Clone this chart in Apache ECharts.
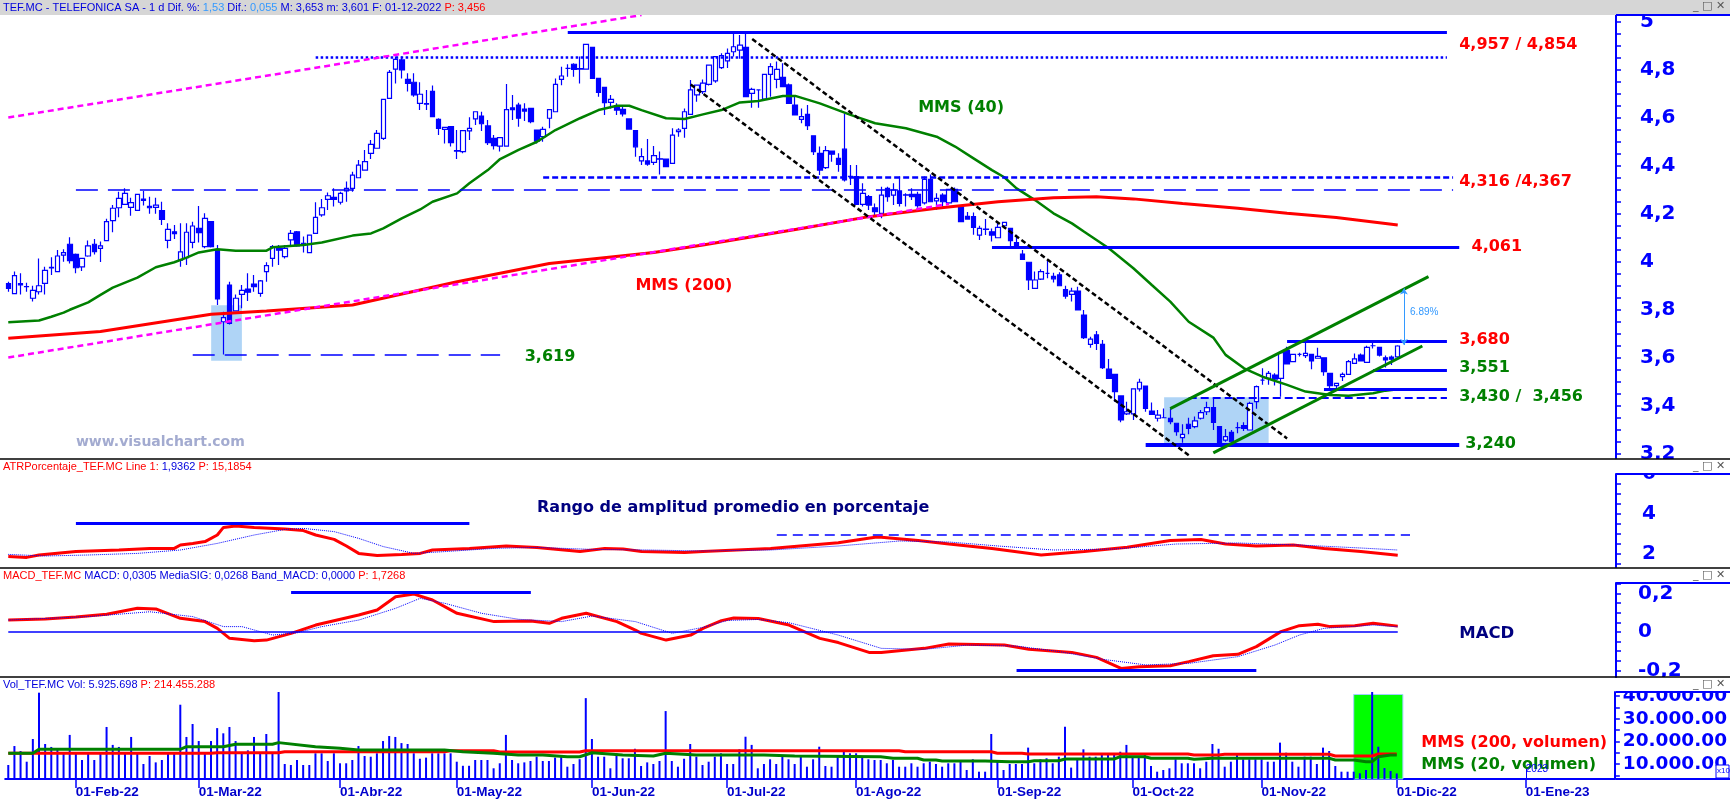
<!DOCTYPE html>
<html>
<head>
<meta charset="utf-8">
<title>TEF.MC</title>
<script src="https://cdn.jsdelivr.net/npm/echarts@6/dist/echarts.min.js"></script>
<style>
  html, body { margin: 0; padding: 0; background: #fff; }
  #chart { width: 1730px; height: 799px; }
</style>
</head>
<body>
<div id="chart"></div>
<script>
// ---- data ----------------------------------------------------------------
const months = ['Ene', 'Feb', 'Mar', 'Abr', 'May', 'Jun', 'Jul', 'Ago', 'Sep', 'Oct', 'Nov', 'Dic'];
const holidays = ['2022-04-15', '2022-04-18', '2022-12-26'];
const firstBar = 10; // 2022-01-17, first candle on screen
const lastDay = 271; // right edge of the time axis (Jan 2023)

// [open, close, low, high]
const ohlc = [
  [3.910,3.890,3.876,3.918],[3.868,3.943,3.868,3.960],[3.910,3.905,3.865,3.953],[3.898,3.897,3.876,3.914],
  [3.849,3.882,3.835,3.901],[3.876,3.901,3.865,4.015],[3.911,3.965,3.865,3.980],[3.975,3.978,3.946,4.020],
  [3.960,4.025,3.960,4.050],[4.029,4.039,4.001,4.053],[4.074,4.006,3.994,4.103],[4.032,3.976,3.953,4.035],
  [3.980,4.015,3.963,4.015],[4.025,4.067,4.022,4.090],[4.074,4.043,4.031,4.096],[4.057,4.067,4.000,4.085],
  [4.089,4.168,4.089,4.180],[4.172,4.224,4.124,4.238],[4.226,4.265,4.186,4.293],[4.240,4.286,4.240,4.307],
  [4.228,4.247,4.193,4.268],[4.215,4.282,4.215,4.282],[4.262,4.257,4.235,4.296],[4.232,4.226,4.201,4.272],
  [4.228,4.237,4.201,4.268],[4.214,4.178,4.154,4.251],[4.090,4.136,4.057,4.161],[4.126,4.118,4.096,4.154],
  [4.008,4.042,3.980,4.161],[4.018,4.124,3.987,4.161],[4.082,4.150,4.057,4.168],[4.140,4.122,4.081,4.233],
  [4.064,4.182,4.057,4.203],[4.168,4.064,4.060,4.168],[4.050,3.846,3.821,4.071],[3.751,3.768,3.615,3.793],
  [3.904,3.744,3.740,3.918],[3.796,3.849,3.796,3.865],[3.865,3.882,3.807,3.904],[3.887,3.874,3.838,3.953],
  [3.908,3.897,3.876,3.946],[3.869,3.921,3.855,3.925],[3.960,3.985,3.918,3.999],[4.015,4.064,3.980,4.071],
  [4.057,4.049,3.987,4.071],[4.022,4.057,4.015,4.071],[4.092,4.119,4.064,4.133],[4.126,4.067,4.064,4.129],
  [4.078,4.071,4.040,4.106],[4.039,4.112,4.039,4.112],[4.119,4.186,4.119,4.249],[4.196,4.226,4.189,4.263],
  [4.261,4.276,4.217,4.290],[4.269,4.261,4.231,4.307],[4.249,4.286,4.240,4.293],[4.296,4.307,4.251,4.335],
  [4.307,4.362,4.293,4.376],[4.351,4.404,4.349,4.425],[4.383,4.418,4.383,4.467],[4.453,4.490,4.429,4.508],
  [4.474,4.536,4.474,4.550],[4.515,4.678,4.508,4.678],[4.682,4.790,4.682,4.800],[4.804,4.844,4.744,4.856],
  [4.842,4.800,4.765,4.856],[4.761,4.744,4.710,4.786],[4.749,4.696,4.689,4.786],[4.661,4.699,4.633,4.749],
  [4.660,4.658,4.633,4.717],[4.711,4.606,4.606,4.735],[4.594,4.557,4.529,4.599],[4.553,4.561,4.494,4.561],
  [4.564,4.497,4.481,4.564],[4.464,4.462,4.429,4.550],[4.460,4.547,4.453,4.550],[4.546,4.557,4.508,4.603],
  [4.596,4.626,4.571,4.626],[4.608,4.576,4.546,4.626],[4.567,4.497,4.487,4.592],[4.515,4.485,4.469,4.529],
  [4.483,4.518,4.460,4.518],[4.483,4.635,4.483,4.742],[4.642,4.635,4.592,4.696],[4.654,4.599,4.564,4.664],
  [4.637,4.629,4.587,4.661],[4.640,4.585,4.578,4.640],[4.550,4.504,4.494,4.550],[4.522,4.553,4.501,4.564],
  [4.599,4.635,4.557,4.635],[4.626,4.740,4.626,4.765],[4.761,4.775,4.737,4.814],[4.807,4.807,4.772,4.824],
  [4.824,4.803,4.772,4.828],[4.806,4.804,4.744,4.856],[4.804,4.907,4.804,4.907],[4.894,4.765,4.765,4.894],
  [4.765,4.707,4.689,4.765],[4.728,4.664,4.613,4.728],[4.665,4.678,4.640,4.696],[4.643,4.633,4.613,4.661],
  [4.636,4.617,4.606,4.647],[4.596,4.554,4.554,4.596],[4.547,4.480,4.439,4.550],[4.421,4.439,4.404,4.474],
  [4.421,4.408,4.401,4.512],[4.415,4.443,4.404,4.483],[4.430,4.429,4.365,4.460],[4.429,4.397,4.397,4.429],
  [4.411,4.529,4.411,4.557],[4.543,4.550,4.522,4.557],[4.557,4.626,4.518,4.640],[4.615,4.717,4.615,4.758],
  [4.696,4.737,4.668,4.737],[4.710,4.745,4.700,4.760],[4.740,4.820,4.735,4.823],[4.755,4.856,4.747,4.856],
  [4.810,4.860,4.804,4.870],[4.838,4.869,4.808,4.890],[4.876,4.897,4.856,4.953],[4.883,4.904,4.847,4.946],
  [4.894,4.689,4.689,4.953],[4.703,4.719,4.643,4.726],[4.717,4.717,4.643,4.717],[4.679,4.782,4.679,4.782],
  [4.782,4.814,4.689,4.828],[4.761,4.803,4.724,4.835],[4.769,4.731,4.731,4.828],[4.738,4.661,4.661,4.744],
  [4.654,4.613,4.613,4.689],[4.594,4.606,4.578,4.640],[4.615,4.568,4.550,4.654],[4.526,4.460,4.446,4.526],
  [4.453,4.383,4.362,4.481],[4.393,4.464,4.387,4.483],[4.462,4.449,4.418,4.462],[4.432,4.407,4.376,4.453],
  [4.470,4.342,4.335,4.619],[4.357,4.356,4.321,4.404],[4.356,4.240,4.240,4.404],[4.240,4.286,4.231,4.328],
  [4.272,4.237,4.217,4.279],[4.226,4.210,4.196,4.244],[4.203,4.279,4.182,4.314],[4.307,4.272,4.251,4.314],
  [4.279,4.300,4.238,4.328],[4.296,4.244,4.231,4.356],[4.280,4.279,4.231,4.286],[4.282,4.272,4.258,4.307],
  [4.282,4.235,4.226,4.293],[4.246,4.344,4.240,4.356],[4.344,4.251,4.251,4.365],[4.255,4.265,4.218,4.286],
  [4.279,4.251,4.231,4.286],[4.246,4.303,4.239,4.303],[4.303,4.251,4.251,4.310],[4.230,4.168,4.168,4.230],
  [4.190,4.179,4.176,4.208],[4.189,4.144,4.114,4.206],[4.112,4.140,4.092,4.151],[4.137,4.136,4.112,4.179],
  [4.126,4.112,4.085,4.140],[4.101,4.144,4.101,4.168],[4.151,4.165,4.140,4.168],[4.140,4.089,4.057,4.140],
  [4.081,4.061,4.057,4.114],[4.033,4.011,4.008,4.050],[3.999,3.925,3.883,3.999],[3.890,3.925,3.890,3.960],
  [3.929,3.960,3.925,3.970],[3.953,3.953,3.932,4.008],[3.940,3.930,3.915,3.955],[3.946,3.901,3.901,3.957],
  [3.885,3.858,3.847,3.901],[3.865,3.879,3.835,3.893],[3.879,3.800,3.800,3.897],[3.779,3.685,3.679,3.800],
  [3.657,3.679,3.643,3.689],[3.696,3.661,3.633,3.713],[3.657,3.560,3.554,3.675],[3.554,3.515,3.515,3.596],
  [3.532,3.460,3.418,3.532],[3.442,3.342,3.332,3.442],[3.367,3.376,3.362,3.418],[3.367,3.471,3.342,3.474],
  [3.471,3.499,3.460,3.513],[3.483,3.390,3.376,3.483],[3.379,3.365,3.362,3.415],[3.349,3.362,3.335,3.383],
  [3.351,3.351,3.349,3.390],[3.349,3.335,3.324,3.390],[3.328,3.293,3.276,3.328],[3.268,3.282,3.247,3.324],
  [3.324,3.307,3.282,3.351],[3.314,3.338,3.307,3.356],[3.349,3.372,3.344,3.383],[3.376,3.393,3.362,3.418],
  [3.393,3.332,3.300,3.432],[3.314,3.244,3.244,3.314],[3.258,3.272,3.251,3.304],[3.290,3.251,3.244,3.300],
  [3.310,3.310,3.286,3.332],[3.318,3.307,3.296,3.332],[3.300,3.411,3.300,3.418],[3.418,3.481,3.388,3.485],
  [3.508,3.508,3.488,3.557],[3.515,3.536,3.488,3.546],[3.529,3.512,3.485,3.536],[3.515,3.622,3.439,3.629],
  [3.632,3.575,3.575,3.647],[3.585,3.615,3.582,3.618],[3.615,3.615,3.606,3.622],[3.610,3.619,3.600,3.664],
  [3.615,3.588,3.553,3.615],[3.599,3.607,3.599,3.643],[3.601,3.543,3.526,3.601],[3.536,3.485,3.467,3.536],
  [3.485,3.494,3.467,3.494],[3.522,3.532,3.504,3.540],[3.532,3.585,3.532,3.592],[3.578,3.596,3.578,3.619],
  [3.612,3.588,3.585,3.619],[3.582,3.644,3.582,3.651],[3.651,3.651,3.640,3.664],[3.644,3.612,3.606,3.647],
  [3.601,3.592,3.560,3.610],[3.604,3.595,3.571,3.610],[3.605,3.650,3.601,3.653]
];

// volume, axis units (x1000), from firstBar
const volume = [
  9650,18000,15800,11100,21100,41500,18900,17600,17100,14800,22900,14800,11850,14800,11850,14800,
  26400,18500,17600,14800,22000,14800,10100,13600,10800,11850,14800,14800,36200,22000,27700,20200,
  14800,20200,25900,23600,26400,20200,14800,16100,22000,14800,23300,14800,41900,10100,9650,11850,
  9650,9650,14800,14800,11400,14800,10400,10400,11850,18000,13600,13300,14800,20200,22400,22000,
  19300,18900,14800,12400,12900,14800,14800,14800,14800,11100,9300,9300,11850,11850,11850,8200,
  10400,22900,11850,10400,10800,11400,13300,11400,11400,12900,13300,8900,10100,12200,39100,21100,
  13300,13300,8200,14800,12600,12600,16800,9200,10800,10100,11400,33400,11400,8900,12400,18900,
  13300,9650,11100,13300,14800,10100,10100,16560,22100,18500,8200,10100,12150,10100,13300,12150,
  10100,13300,8900,12150,17700,9200,8900,13300,15500,14800,14800,13300,12150,11850,11850,10400,
  11850,8900,8900,10400,8900,10400,11100,10100,8900,10400,10400,11100,7450,12150,6700,6700,
  23300,11850,7450,10100,10100,10100,17300,10400,12150,12600,10400,13300,26500,8500,12600,16560,
  13300,13300,14800,14800,14800,15500,18500,13300,13300,14060,9200,6700,7450,8200,12150,10400,
  10400,10400,8200,11100,18900,16800,8900,11100,14060,12150,12150,12150,12150,11100,11100,19500,
  15060,11100,8900,13300,13300,10100,17300,15800,9200,6700,6700,6700,6000,7450,41900,17700,
  8300,7000,5926
];

// [day index, value] readings of the studies (day 0 = 2022-01-03)
const mms40 = [[10,3.749],[15,3.756],[17,3.772],[19,3.789],[20,3.801],[23,3.832],[25,3.863],[27,3.893],
  [31,3.935],[34,3.978],[37,3.999],[39,4.018],[41,4.040],[44,4.053],[47,4.047],[52,4.047],[53,4.061],
  [58,4.071],[61,4.081],[66,4.110],[69,4.119],[71,4.140],[74,4.182],[77,4.219],[79,4.251],[83,4.286],
  [85,4.328],[88,4.383],[90,4.429],[93,4.467],[96,4.501],[99,4.550],[103,4.599],[106,4.633],[109,4.651],
  [111,4.651],[113,4.633],[117,4.599],[120,4.596],[123,4.615],[126,4.633],[129,4.665],[132,4.671],
  [136,4.692],[138,4.692],[142,4.661],[147,4.613],[151,4.578],[156,4.557],[161,4.522],[164,4.481],
  [167,4.432],[170,4.383],[172,4.353],[174,4.307],[177,4.258],[180,4.203],[183,4.161],[185,4.126],
  [189,4.057],[193,3.974],[196,3.904],[199,3.835],[202,3.751],[206,3.685],[208,3.613],[211,3.557],
  [214,3.522],[218,3.488],[221,3.460],[225,3.446],[228,3.443],[232,3.453],[234,3.464],[236,3.470]];
const mms200 = [[10,3.682],[25,3.710],[43,3.782],[52,3.796],[66,3.821],[83,3.918],[98,3.994],
  [115,4.040],[123,4.071],[139,4.140],[150,4.189],[161,4.224],[171,4.251],[180,4.268],[187,4.272],
  [193,4.263],[201,4.244],[210,4.224],[218,4.203],[226,4.185],[236,4.154]];

const atr = [[10,1.87],[13,1.83],[15,1.95],[21,2.12],[28,2.20],[33,2.28],[37,2.28],[38,2.45],[40,2.53],
  [42,2.62],[44,2.95],[45,3.33],[47,3.40],[50,3.33],[55,3.25],[58,3.17],[60,2.95],[63,2.73],[65,2.40],
  [67,2.03],[70,1.93],[74,1.97],[77,2.03],[79,2.20],[85,2.28],[91,2.40],[96,2.33],[103,2.12],[107,2.27],
  [110,2.25],[113,2.12],[120,2.07],[123,2.12],[134,2.28],[145,2.56],[151,2.84],[152,2.84],[158,2.67],
  [163,2.50],[170,2.28],[178,1.95],[185,2.12],[192,2.34],[199,2.67],[204,2.72],[208,2.50],[213,2.40],
  [219,2.45],[224,2.28],[230,2.12],[236,1.94]];
const atrAvg = [[10,1.98],[16,1.90],[23,1.95],[31,2.03],[38,2.20],[44,2.53],[50,2.95],[55,3.23],[58,3.28],
  [63,3.12],[67,2.78],[71,2.37],[76,2.03],[81,2.12],[89,2.28],[96,2.33],[105,2.23],[114,2.20],[123,2.15],
  [134,2.20],[145,2.40],[155,2.65],[163,2.60],[171,2.40],[180,2.20],[190,2.25],[200,2.50],[210,2.55],
  [220,2.45],[230,2.30],[236,2.20]];

const macd = [[10,0.062],[16,0.068],[21,0.078],[26,0.092],[31,0.123],[34,0.120],[38,0.071],[42,0.054],
  [44,0.019],[46,-0.033],[50,-0.045],[52,-0.042],[56,-0.007],[60,0.036],[67,0.088],[70,0.114],[73,0.183],
  [76,0.197],[79,0.166],[83,0.097],[89,0.054],[95,0.057],[98,0.045],[100,0.071],[104,0.097],[109,0.054],
  [112,0.010],[113,-0.007],[117,-0.042],[121,-0.016],[123,0.019],[126,0.059],[128,0.073],[132,0.070],
  [137,0.036],[142,-0.033],[145,-0.055],[150,-0.106],[152,-0.107],[159,-0.085],[163,-0.062],[172,-0.068],
  [176,-0.090],[183,-0.106],[187,-0.132],[191,-0.189],[194,-0.180],[199,-0.175],[202,-0.154],[206,-0.123],
  [210,-0.116],[213,-0.076],[217,0.002],[220,0.033],[223,0.040],[225,0.028],[229,0.033],[232,0.045],
  [236,0.0305]];
const macdSig = [[10,0.062],[23,0.080],[33,0.105],[40,0.080],[45,0.028],[48,0.028],[53,-0.016],[57,-0.004],
  [61,0.028],[67,0.062],[73,0.123],[77,0.175],[81,0.149],[87,0.097],[93,0.066],[100,0.054],[105,0.083],
  [112,0.054],[118,-0.007],[123,0.024],[127,0.060],[132,0.065],[137,0.048],[145,-0.016],[152,-0.085],
  [159,-0.090],[166,-0.068],[174,-0.073],[181,-0.102],[188,-0.142],[195,-0.171],[202,-0.163],[210,-0.128],
  [216,-0.068],[220,-0.016],[224,0.019],[232,0.036],[236,0.0268]];

const volMa200 = [[10,14800],[43,14800],[44,15060],[54,15060],[55,15500],[81,15500],[82,15960],[89,15960],
  [90,15400],[103,15400],[104,15960],[155,15960],[156,15500],[170,15500],[171,14800],[175,14800],
  [176,14500],[202,14500],[203,14060],[207,14060],[208,14360],[225,14360],[226,13600],[232,13600],
  [233,14500],[236,14500]];
const volMa20 = [[10,14800],[14,14800],[15,16560],[38,16560],[39,17700],[45,17700],[47,18760],[53,18760],
  [54,19500],[60,17700],[64,17000],[67,16250],[81,16250],[84,15500],[89,14800],[93,14060],[97,14060],
  [101,13300],[103,13300],[105,15060],[110,14060],[115,13600],[117,14800],[122,14060],[133,14060],
  [138,13600],[152,13300],[154,12600],[158,12600],[159,11850],[161,11850],[162,11400],[169,11400],
  [173,11100],[176,11100],[177,11540],[181,11540],[182,12300],[190,12300],[191,13300],[195,13300],
  [196,12600],[202,12600],[203,12150],[206,12600],[225,12600],[226,11850],[229,11850],[231,11100],
  [232,11100],[233,13300],[235,14060],[236,14060]];

const priceLabels = [3.2, 3.4, 3.6, 3.8, 4.0, 4.2, 4.4, 4.6, 4.8, 5.0];
const atrLabels = [2, 4, 6];
const macdLabels = [-0.2, 0, 0.2];
const volLabels = [10000, 20000, 30000, 40000];

// ---- helpers ---------------------------------------------------------------
function tradingDays(start, n, skip) {
  const out = [];
  const d = new Date(start + 'T00:00:00Z');
  while (out.length < n) {
    const wd = d.getUTCDay();
    const s = d.toISOString().slice(0, 10);
    if (wd !== 0 && wd !== 6 && skip.indexOf(s) < 0) out.push(s);
    d.setUTCDate(d.getUTCDate() + 1);
  }
  return out;
}
const days = tradingDays('2022-01-03', lastDay + 1, holidays);
const pad = Array(firstBar).fill('-');
const monthStart = idx => idx === 0 || days[idx].slice(5, 7) !== days[idx - 1].slice(5, 7);
const steps = (a, b, s) => { const r = []; for (let v = a; v <= b + 1e-9; v += s) r.push(+v.toFixed(4)); return r; };
const comma = v => String(+v.toFixed(1)).replace('.', ',');

const BLUE = '#0000ff';
const seg = (i1, v1, i2, v2, style) => [{ coord: [i1, v1], lineStyle: style }, { coord: [i2, v2] }];
const solid = w => ({ color: BLUE, width: w, type: 'solid' });
const note = (i, v, text, color, size, weight, font) => ({
  coord: [i, v],
  label: {
    show: true, formatter: text, position: 'right', distance: 0,
    color: color, fontSize: size, fontWeight: weight || 'bold',
    fontFamily: font || 'DejaVu Sans'
  }
});

const grids = [
  { left: 5.2, right: 114, top: 15, height: 443 },
  { left: 5.2, right: 114, top: 474, height: 93 },
  { left: 5.2, right: 114, top: 583, height: 94 },
  { left: 5.2, right: 114, top: 692, height: 87 }
];

const xAxes = grids.map((g, k) => ({
  type: 'category', gridIndex: k, data: days, boundaryGap: true, show: k === 3,
  min: firstBar, max: lastDay,
  axisLine: { show: true, lineStyle: { color: BLUE, width: 2 } },
  axisTick: { show: true, alignWithLabel: true, interval: monthStart, length: 9, lineStyle: { color: BLUE, width: 1.5 } },
  axisLabel: {
    show: true, interval: monthStart, align: 'left', margin: 6,
    formatter: v => '01-' + months[+v.slice(5, 7) - 1] + '-' + v.slice(2, 4),
    color: '#0000cc', fontSize: 13.5, fontWeight: 'bold', fontFamily: 'Liberation Sans'
  },
  splitLine: { show: false }
}));

const yLabel = (size, margin) => ({ color: BLUE, fontSize: size, fontWeight: 'bold', fontFamily: 'DejaVu Sans', margin: margin });
const yTick = vals => ({ show: true, customValues: vals, length: 5, lineStyle: { color: BLUE, width: 1.5 } });
const yBase = k => ({
  type: 'value', gridIndex: k, position: 'right', splitLine: { show: false },
  axisLine: { show: true, lineStyle: { color: BLUE, width: 2 } }
});
const yAxes = [
  Object.assign(yBase(0), {
    min: 3.1833, max: 5.0292, axisTick: yTick(steps(3.2, 5.0, 0.05)),
    axisLabel: Object.assign({ customValues: priceLabels, formatter: v => comma(v) }, yLabel(20, 24))
  }),
  Object.assign(yBase(1), {
    min: 1.35, max: 6.0, axisTick: yTick(steps(1.5, 6, 0.5)),
    axisLabel: Object.assign({ customValues: atrLabels, formatter: v => String(v) }, yLabel(20, 26))
  }),
  Object.assign(yBase(2), {
    min: -0.2338, max: 0.2545, axisTick: yTick(steps(-0.2, 0.25, 0.05)),
    axisLabel: Object.assign({ customValues: macdLabels, formatter: v => comma(v) }, yLabel(20, 22))
  }),
  Object.assign(yBase(3), {
    min: 3480, max: 41800, axisTick: yTick(steps(5000, 40000, 5000)),
    axisLabel: Object.assign({ customValues: volLabels, formatter: v => (v / 1000) + '.000.00' }, yLabel(18.5, 8))
  })
];

const line = (k, data, color, width, type) => ({
  type: 'line', xAxisIndex: k, yAxisIndex: k, data: data, symbol: 'none', silent: true,
  lineStyle: { color: color, width: width, type: type || 'solid' }
});

const priceMarks = {
  symbol: ['none', 'none'], silent: true, label: { show: false },
  data: [
    seg(101, 4.957, 244, 4.957, solid(3)),
    seg(60, 4.854, 244, 4.854, { color: BLUE, width: 2.5, type: [2.5, 2.5] }),
    seg(97, 4.355, 245, 4.355, { color: BLUE, width: 2.5, type: [6, 3] }),
    seg(21, 4.303, 245, 4.303, { color: BLUE, width: 1.5, type: [22, 10] }),
    seg(170, 4.061, 246, 4.061, solid(3)),
    seg(218, 3.668, 244, 3.668, solid(3)),
    seg(232, 3.551, 244, 3.551, solid(3)),
    seg(224, 3.468, 244, 3.468, solid(3)),
    seg(202, 3.435, 244, 3.435, { color: BLUE, width: 2, type: [8, 4] }),
    seg(195, 3.240, 246, 3.240, solid(4)),
    seg(40, 3.615, 90, 3.615, { color: BLUE, width: 1.5, type: [22, 10] }),
    seg(10, 4.602, 113, 5.029, { color: '#ff00ff', width: 2.5, type: [6, 4] }),
    seg(10, 3.602, 163, 4.242, { color: '#ff00ff', width: 2.5, type: [6, 4] }),
    seg(131, 4.929, 218, 3.265, { color: '#000', width: 2.5, type: [5, 3] }),
    seg(121, 4.740, 202, 3.195, { color: '#000', width: 2.5, type: [5, 3] }),
    seg(199, 3.389, 241, 3.939, { color: '#008000', width: 3, type: 'solid' }),
    seg(206, 3.205, 240, 3.650, { color: '#008000', width: 3, type: 'solid' })
  ]
};

const rich11 = {
  b: { fill: '#0000dd', fontSize: 11, fontFamily: 'Liberation Sans' },
  l: { fill: '#3399ff', fontSize: 11, fontFamily: 'Liberation Sans' },
  r: { fill: '#ff0000', fontSize: 11, fontFamily: 'Liberation Sans' }
};
const header = (top, text) => ({ type: 'text', left: 3, top: top, silent: true, z: 101, style: { text: text, rich: rich11 } });
const hline = (x1, x2, y, color, w) => ({ type: 'line', silent: true, z: 101, shape: { x1: x1, y1: y, x2: x2, y2: y }, style: { stroke: color, lineWidth: w } });
const buttons = top => ({ type: 'text', left: 1693, top: top, silent: true, z: 101, style: { text: '_ □ ✕', fill: '#555', fontSize: 11, fontFamily: 'DejaVu Sans' } });
// blank strips in the scale column: the panel frames cut the outermost tick labels
const mask = (y1, y2) => ({ type: 'rect', silent: true, z: 100, shape: { x: 1618, y: y1, width: 112, height: y2 - y1 }, style: { fill: '#fff' } });

const option = {
  animation: false,
  backgroundColor: '#fff',
  grid: grids,
  xAxis: xAxes,
  yAxis: yAxes,
  series: [
    {
      type: 'candlestick', xAxisIndex: 0, yAxisIndex: 0, barWidth: 5, silent: true,
      data: pad.concat(ohlc),
      itemStyle: { color: '#fff', color0: BLUE, borderColor: BLUE, borderColor0: BLUE, borderWidth: 1.2 },
      markLine: priceMarks,
      markArea: {
        silent: true,
        itemStyle: { color: '#a6cff5', opacity: 0.9 },
        data: [
          [{ coord: [43, 3.589] }, { coord: [48, 3.820] }],
          [{ coord: [198, 3.244] }, { coord: [215, 3.436] }]
        ]
      },
      markPoint: {
        symbol: 'circle', symbolSize: 0, silent: true,
        data: [
          note(246, 4.904, '4,957 / 4,854', '#ff0000', 16),
          note(246, 4.335, '4,316 /4,367', '#ff0000', 16),
          note(248, 4.062, '4,061', '#ff0000', 16),
          note(246, 3.675, '3,680', '#ff0000', 16),
          note(246, 3.558, '3,551', '#008000', 16),
          note(246, 3.437, '3,430 /  3,456', '#008000', 16),
          note(247, 3.242, '3,240', '#008000', 16),
          note(94, 3.604, '3,619', '#008000', 16),
          note(112, 3.900, 'MMS (200)', '#ff0000', 16),
          note(158, 4.642, 'MMS (40)', '#008000', 16),
          note(21, 3.250, 'www.visualchart.com', '#a3abd0', 14),
          note(238, 3.790, '6.89%', '#3399ff', 10, 'normal', 'Liberation Sans')
        ]
      }
    },
    line(0, mms40, '#008000', 2.5),
    line(0, mms200, '#ff0000', 3),
    {
      type: 'line', xAxisIndex: 0, yAxisIndex: 0, data: [], silent: true,
      markLine: {
        symbol: ['arrow', 'arrow'], symbolSize: 6, silent: true, label: { show: false },
        data: [seg(237, 3.654, 237, 3.890, { color: '#3399ff', width: 1, type: 'solid' })]
      }
    },
    Object.assign(line(1, atr, '#ff0000', 3), {
      markLine: {
        symbol: ['none', 'none'], silent: true, label: { show: false },
        data: [
          seg(21, 3.52, 85, 3.52, solid(3)),
          seg(135, 2.95, 238, 2.95, { color: BLUE, width: 1.5, type: [10, 6] })
        ]
      },
      markPoint: {
        symbol: 'circle', symbolSize: 0, silent: true,
        data: [note(96, 4.33, 'Rango de amplitud promedio en porcentaje', '#000080', 16)]
      }
    }),
    line(1, atrAvg, BLUE, 1, 'dotted'),
    Object.assign(line(2, macd, '#ff0000', 3), {
      markLine: {
        symbol: ['none', 'none'], silent: true, label: { show: false },
        data: [
          seg(10, 0, 236, 0, solid(1.5)),
          seg(56, 0.204, 95, 0.204, solid(3)),
          seg(174, -0.201, 213, -0.201, solid(3))
        ]
      },
      markPoint: {
        symbol: 'circle', symbolSize: 0, silent: true,
        data: [note(246, -0.010, 'MACD', '#000080', 16.5)]
      }
    }),
    line(2, macdSig, BLUE, 1, 'dotted'),
    {
      type: 'bar', xAxisIndex: 3, yAxisIndex: 3, barWidth: 2, silent: true, z: 3,
      data: pad.concat(volume), itemStyle: { color: BLUE },
      markLine: {
        symbol: ['none', 'none'], silent: true, label: { show: false },
        data: [seg(257, 8600, 257, 3480, solid(1))]
      },
      markPoint: {
        symbol: 'circle', symbolSize: 0, silent: true,
        data: [
          note(240, 19340, 'MMS (200, volumen)', '#ff0000', 16),
          note(240, 9650, 'MMS (20, volumen)', '#008000', 16),
          note(257, 7600, '2023', BLUE, 10, 'normal', 'Liberation Sans')
        ]
      }
    },
    Object.assign(line(3, volMa200, '#ff0000', 3), { z: 4 }),
    Object.assign(line(3, volMa20, '#008000', 3), {
      z: 4,
      markArea: {
        silent: true, z: 1,
        itemStyle: { color: '#00ff00', borderColor: '#9fd0ff', borderWidth: 1 },
        data: [[{ coord: [229, 3480] }, { coord: [237, 40700] }]]
      }
    })
  ],
  graphic: [
    { type: 'rect', silent: true, z: 100, shape: { x: 0, y: 0, width: 1730, height: 15 }, style: { fill: '#d6d6d6' } },
    header(2, '{b|TEF.MC - TELEFONICA SA - 1 d Dif. %: }{l|1,53}{b| Dif.: }{l|0,055}{b| M: 3,653 m: 3,601 F: 01-12-2022 }{r|P: 3,456}'),
    header(461, '{r|ATRPorcentaje_TEF.MC Line 1: }{b|1,9362}{r| P: 15,1854}'),
    header(570, '{r|MACD_TEF.MC }{b|MACD: 0,0305 MediaSIG: 0,0268 Band_MACD: 0,0000}{r| P: 1,7268}'),
    header(679, '{b|Vol_TEF.MC Vol: 5.925.698}{r| P: 214.455.288}'),
    mask(459, 473),
    mask(677, 691),
    // panel separators
    hline(0, 1730, 459, '#000', 1.5),
    hline(0, 1730, 568, '#000', 1.5),
    hline(0, 1730, 677, '#000', 1.5),
    // scale boxes on the right
    hline(1616, 1730, 15, BLUE, 2),
    hline(1616, 1730, 474, BLUE, 2),
    hline(1616, 1730, 583, BLUE, 2),
    hline(1616, 1730, 692, BLUE, 2),
    hline(1616, 1730, 779, BLUE, 2),
    { type: 'rect', silent: true, z: 101, shape: { x: 1716, y: 765, width: 13, height: 13 }, style: { fill: '#fff', stroke: BLUE, lineWidth: 1 } },
    { type: 'text', left: 1717, top: 767, silent: true, z: 102, style: { text: 'x10', fill: BLUE, fontSize: 8, fontFamily: 'Liberation Sans' } },
    buttons(1), buttons(461), buttons(570), buttons(679)
  ]
};

const chart = echarts.init(document.getElementById('chart'), null, { renderer: 'canvas' });
chart.setOption(option);
</script>
</body>
</html>
